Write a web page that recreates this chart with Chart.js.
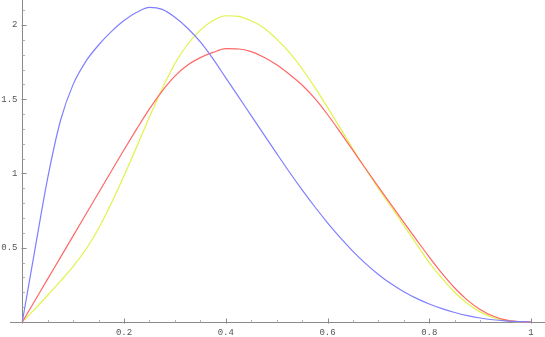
<!DOCTYPE html>
<html>
<head>
<meta charset="utf-8">
<script src="https://cdn.jsdelivr.net/npm/chart.js@4.4.1/dist/chart.umd.min.js"></script>
<style>
  html, body { margin: 0; padding: 0; background: #fff; }
  #wrap { width: 545px; height: 337px; }
</style>
</head>
<body>
<div id="wrap"><canvas id="plot" width="545" height="337"></canvas></div>
<script>
// sample positions along x
const xs = [0, 0.025, 0.05, 0.075, 0.1, 0.125, 0.15, 0.175, 0.2, 0.225,
            0.25, 0.275, 0.3, 0.325, 0.35, 0.375, 0.4, 0.425, 0.45, 0.475,
            0.5, 0.525, 0.55, 0.575, 0.6, 0.625, 0.65, 0.675, 0.7, 0.725,
            0.75, 0.775, 0.8, 0.825, 0.85, 0.875, 0.9, 0.925, 0.95, 0.975, 1];

const blueCurve = [0, 0.49, 0.97, 1.355, 1.60, 1.755, 1.865, 1.955, 2.03, 2.085,
                   2.118, 2.105, 2.052, 1.978, 1.886, 1.772, 1.644, 1.517, 1.39, 1.262,
                   1.135, 1.01, 0.89, 0.776, 0.668, 0.568, 0.476, 0.393, 0.32, 0.257,
                   0.204, 0.159, 0.121, 0.09, 0.064, 0.043, 0.027, 0.015, 0.007, 0.002, 0];

const redCurve = [0, 0.145, 0.29, 0.435, 0.58, 0.725, 0.87, 1.015, 1.16, 1.30,
                  1.435, 1.555, 1.655, 1.73, 1.78, 1.815, 1.84, 1.838, 1.82, 1.783,
                  1.732, 1.668, 1.596, 1.505, 1.397, 1.278, 1.155, 1.032, 0.91, 0.79,
                  0.671, 0.553, 0.437, 0.327, 0.229, 0.147, 0.084, 0.04, 0.014, 0.003, 0];

const yellowCurve = [0, 0.088, 0.18, 0.275, 0.375, 0.49, 0.63, 0.80, 0.985, 1.18,
                     1.38, 1.57, 1.74, 1.87, 1.965, 2.03, 2.062, 2.058, 2.028, 1.98,
                     1.905, 1.815, 1.705, 1.58, 1.445, 1.305, 1.165, 1.03, 0.90, 0.776,
                     0.651, 0.524, 0.40, 0.293, 0.20, 0.125, 0.068, 0.03, 0.009, 0.001, 0];

const xTicks = [0.2, 0.4, 0.6, 0.8, 1];
const xTickLabels = ["0.2", "0.4", "0.6", "0.8", "1"];
const yTicks = [0.5, 1, 1.5, 2];
const yTickLabels = ["0.5", "1", "1.5", "2"];

function toPoints(ys) {
    return xs.map((x, i) => ({ x: x, y: ys[i] }));
}

// Mathematica-style axes crossing at the origin, ticks pointing inwards
const axesPlugin = {
    id: "axes",
    beforeDatasetsDraw(chart) {
        const ctx = chart.ctx;
        const sx = chart.scales.x;
        const sy = chart.scales.y;
        const x0 = Math.round(sx.getPixelForValue(0)) + 0.5;
        const y0 = Math.round(sy.getPixelForValue(0)) + 0.5;
        ctx.save();
        ctx.strokeStyle = "#8a8a8a";
        ctx.lineWidth = 1;
        ctx.beginPath();
        ctx.moveTo(10, y0);
        ctx.lineTo(chart.width, y0);
        ctx.moveTo(x0, 0);
        ctx.lineTo(x0, y0 + 1);
        ctx.stroke();

        // minor ticks
        ctx.strokeStyle = "#b0b0b0";
        ctx.beginPath();
        for (let i = 1; i <= 20; i++) {
            const px = Math.round(sx.getPixelForValue(i * 0.05)) + 0.5;
            ctx.moveTo(px, y0);
            ctx.lineTo(px, y0 - 2.5);
        }
        for (let i = 1; i <= 21; i++) {
            const py = Math.round(sy.getPixelForValue(i * 0.1)) + 0.5;
            ctx.moveTo(x0, py);
            ctx.lineTo(x0 + 2.5, py);
        }
        ctx.stroke();

        // major ticks
        ctx.strokeStyle = "#8a8a8a";
        ctx.beginPath();
        xTicks.forEach(v => {
            const px = Math.round(sx.getPixelForValue(v)) + 0.5;
            ctx.moveTo(px, y0 + 1);
            ctx.lineTo(px, y0 - 4);
        });
        yTicks.forEach(v => {
            const py = Math.round(sy.getPixelForValue(v)) + 0.5;
            ctx.moveTo(x0 - 1, py);
            ctx.lineTo(x0 + 4, py);
        });
        ctx.stroke();

        // tick labels
        ctx.fillStyle = "#555";
        ctx.font = "9px 'Liberation Mono', 'DejaVu Sans Mono', monospace";
        ctx.textAlign = "center";
        ctx.textBaseline = "middle";
        xTicks.forEach((v, i) => {
            ctx.fillText(xTickLabels[i], sx.getPixelForValue(v), y0 + 10);
        });
        ctx.textAlign = "right";
        yTicks.forEach((v, i) => {
            ctx.fillText(yTickLabels[i], x0 - 5, sy.getPixelForValue(v));
        });
        ctx.restore();
    }
};

const ctx = document.getElementById("plot").getContext("2d");

new Chart(ctx, {
    type: "line",
    data: {
        datasets: [
            {
                label: "blue",
                data: toPoints(blueCurve),
                borderColor: "#7f7fff",
                borderWidth: 1.2,
                pointRadius: 0,
                cubicInterpolationMode: "monotone",
                fill: false
            },
            {
                label: "red",
                data: toPoints(redCurve),
                borderColor: "#ff6666",
                borderWidth: 1.2,
                pointRadius: 0,
                cubicInterpolationMode: "monotone",
                fill: false
            },
            {
                label: "yellow",
                data: toPoints(yellowCurve),
                borderColor: "#e2f24a",
                borderWidth: 1.2,
                pointRadius: 0,
                cubicInterpolationMode: "monotone",
                fill: false
            }
        ]
    },
    options: {
        responsive: false,
        animation: false,
        layout: { padding: 0 },
        plugins: {
            legend: { display: false },
            tooltip: { enabled: false }
        },
        scales: {
            x: { type: "linear", min: -0.0438, max: 1.0275, display: false },
            y: { type: "linear", min: -0.101, max: 2.168, display: false }
        }
    },
    plugins: [axesPlugin]
});
</script>
</body>
</html>
